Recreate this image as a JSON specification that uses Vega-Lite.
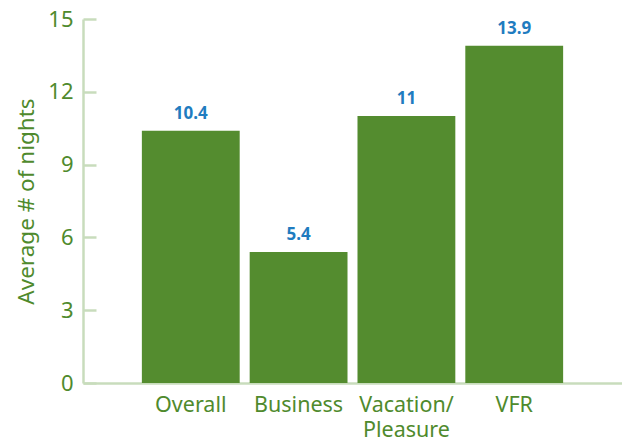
{
  "$schema": "https://vega.github.io/schema/vega-lite/v6.json",
  "width": 539,
  "height": 364,
  "autosize": {"type": "none"},
  "padding": {"left": 83, "top": 19, "right": 0, "bottom": 62},
  "background": "white",
  "config": {
    "view": {"stroke": null},
    "font": "Noto Sans"
  },
  "data": {
    "values": [
      {"category": "Overall", "nights": 10.4, "label": "10.4"},
      {"category": "Business", "nights": 5.4, "label": "5.4"},
      {"category": "Vacation/Pleasure", "nights": 11, "label": "11"},
      {"category": "VFR", "nights": 13.9, "label": "13.9"}
    ]
  },
  "encoding": {
    "x": {
      "field": "category",
      "type": "nominal",
      "sort": null,
      "scale": {"paddingInner": 0.0926, "paddingOuter": 0.546},
      "axis": {
        "title": null,
        "labelAngle": 0,
        "labelFont": "Noto Sans",
        "labelFontSize": 21.5,
        "labelColor": "#4f8a2d",
        "labelPadding": 11,
        "labelLineHeight": 25,
        "labelBaseline": "top",
        "labelExpr": "datum.value == 'Vacation/Pleasure' ? ['Vacation/', 'Pleasure'] : datum.value",
        "ticks": false,
        "domainColor": "#c8dcbc",
        "domainWidth": 2.5
      }
    },
    "y": {
      "field": "nights",
      "type": "quantitative",
      "scale": {"domain": [0, 15], "nice": false},
      "axis": {
        "title": "Average # of nights",
        "titleFont": "Noto Sans",
        "titleFontSize": 22.5,
        "titleFontWeight": "normal",
        "titleColor": "#4f8a2d",
        "titlePadding": 9,
        "values": [0, 3, 6, 9, 12, 15],
        "grid": false,
        "labelFont": "Noto Sans",
        "labelFontSize": 22,
        "labelColor": "#4f8a2d",
        "tickSize": -13,
        "tickColor": "#c8dcbc",
        "tickWidth": 2.5,
        "labelPadding": 23,
        "domainColor": "#c8dcbc",
        "domainWidth": 2.5
      }
    }
  },
  "layer": [
    {
      "mark": {"type": "bar", "color": "#548c2f"}
    },
    {
      "mark": {
        "type": "text",
        "baseline": "bottom",
        "dy": -8,
        "fontSize": 17,
        "fontWeight": "bold",
        "color": "#1f7cc0",
        "font": "Noto Sans"
      },
      "encoding": {"text": {"field": "label"}}
    }
  ]
}
